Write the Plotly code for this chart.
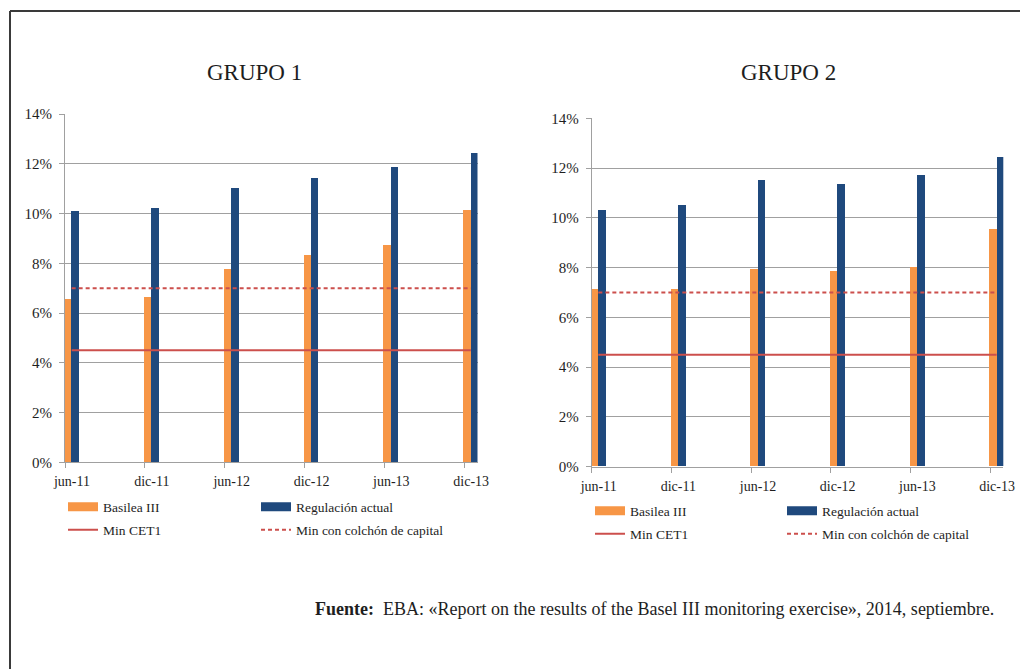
import plotly.graph_objects as go

# ---- data -----------------------------------------------------------------
categorias = ["jun-11", "dic-11", "jun-12", "dic-12", "jun-13", "dic-13"]

basilea_g1 = [6.55, 6.65, 7.75, 8.32, 8.75, 10.15]
regulacion_g1 = [10.12, 10.22, 11.02, 11.42, 11.85, 12.42]

basilea_g2 = [7.14, 7.14, 7.93, 7.85, 8.03, 9.53]
regulacion_g2 = [10.32, 10.52, 11.52, 11.33, 11.72, 12.42]

min_cet1 = [4.5, 4.5, 4.5, 4.5, 4.5, 4.5]
min_colchon = [7.0, 7.0, 7.0, 7.0, 7.0, 7.0]

y_ticks = [0, 2, 4, 6, 8, 10, 12, 14]

# ---- styling ----------------------------------------------------------------
W, H = 1020, 669
NARANJA = "#F79646"
AZUL = "#1F497D"
ROJO = "#CC4F4C"
GRID = "#A0A0A0"
TEXTO = "#1E1E1E"
SERIF = "Liberation Serif"


def fx(px):
    return px / W


def fy(py):
    return 1 - py / H


# months since jun-11: one slot per month, labels every six months
meses = [6 * i for i in range(len(categorias))]
centro = [m + 0.5 for m in meses]
ANCHO = 0.5625

fig = go.Figure()

paneles = [
    dict(xa="x", ya="y", basilea=basilea_g1, regulacion=regulacion_g1,
         leg_a="legend", leg_b="legend2"),
    dict(xa="x2", ya="y2", basilea=basilea_g2, regulacion=regulacion_g2,
         leg_a="legend3", leg_b="legend4"),
]

for p in paneles:
    fig.add_trace(go.Bar(
        x=centro, y=p["basilea"], xaxis=p["xa"], yaxis=p["ya"],
        offset=-0.575, width=ANCHO, marker=dict(color=NARANJA, line=dict(width=0)),
        name="Basilea III", showlegend=False))
    fig.add_trace(go.Bar(
        x=centro, y=p["regulacion"], xaxis=p["xa"], yaxis=p["ya"],
        offset=-0.0125, width=ANCHO, marker=dict(color=AZUL, line=dict(width=0)),
        name="Regulación actual", showlegend=False))
    fig.add_trace(go.Scatter(
        x=centro, y=min_cet1, xaxis=p["xa"], yaxis=p["ya"], mode="lines",
        line=dict(color=ROJO, width=2), name="Min CET1",
        legend=p["leg_b"], showlegend=True))
    fig.add_trace(go.Scatter(
        x=centro, y=min_colchon, xaxis=p["xa"], yaxis=p["ya"], mode="lines",
        line=dict(color=ROJO, width=2, dash="4px,3px"),
        name="Min con colchón de capital", legend=p["leg_b"], showlegend=True))
    # legend keys for the bar series (wide filled swatches)
    fig.add_trace(go.Scatter(
        x=[None], y=[None], xaxis=p["xa"], yaxis=p["ya"], mode="lines",
        line=dict(color=NARANJA, width=9), name="Basilea III",
        legend=p["leg_a"], showlegend=True))
    fig.add_trace(go.Scatter(
        x=[None], y=[None], xaxis=p["xa"], yaxis=p["ya"], mode="lines",
        line=dict(color=AZUL, width=9), name="Regulación actual",
        legend=p["leg_a"], showlegend=True))

eje_x = dict(
    range=[0, 31], tickmode="array", tickvals=meses, ticktext=categorias,
    ticks="outside", ticklen=5, tickcolor=GRID, automargin=False,
    ticklabelshift=7, ticklabelstandoff=1,
    showline=True, linecolor=GRID, linewidth=1, showgrid=False, zeroline=False,
    tickfont=dict(family=SERIF, size=14, color=TEXTO), fixedrange=True,
)
eje_y = dict(
    range=[0, 14], tickmode="array", tickvals=y_ticks,
    ticktext=[f"{v}%" for v in y_ticks], automargin=False,
    ticks="outside", ticklen=5, tickcolor=GRID, ticklabelstandoff=4,
    showline=True, linecolor=GRID, linewidth=1,
    showgrid=True, gridcolor=GRID, gridwidth=1, zeroline=False,
    tickfont=dict(family=SERIF, size=15, color=TEXTO), fixedrange=True,
)

leg_base = dict(
    orientation="h", xanchor="left", yanchor="middle",
    font=dict(family=SERIF, size=13.5, color=TEXTO),
    bgcolor="rgba(0,0,0,0)", borderwidth=0,
    entrywidthmode="pixels", itemwidth=30,
    traceorder="normal", tracegroupgap=0,
)

fig.update_layout(
    width=W, height=H,
    margin=dict(l=0, r=0, t=0, b=0, pad=0, autoexpand=False),
    paper_bgcolor="white", plot_bgcolor="white",
    font=dict(family=SERIF, color=TEXTO),
    barmode="overlay", bargap=0,
    xaxis=dict(eje_x, domain=[fx(65), fx(477.5)], anchor="y"),
    yaxis=dict(eje_y, domain=[fy(462.3), fy(114)], anchor="x"),
    xaxis2=dict(eje_x, domain=[fx(591.7), fx(1003.3)], anchor="y2"),
    yaxis2=dict(eje_y, domain=[fy(466.7), fy(118.3)], anchor="x2"),
    legend=dict(leg_base, x=fx(63), y=fy(507), entrywidth=148),
    legend2=dict(leg_base, x=fx(63), y=fy(530), entrywidth=148),
    legend3=dict(leg_base, x=fx(590), y=fy(511), entrywidth=147),
    legend4=dict(leg_base, x=fx(590), y=fy(534), entrywidth=147),
    showlegend=True,
)

# titles and source note
fig.add_annotation(text="GRUPO 1", x=fx(254), y=fy(73), xref="paper", yref="paper",
                   showarrow=False, xanchor="center", yanchor="middle",
                   font=dict(family=SERIF, size=23, color=TEXTO))
fig.add_annotation(text="GRUPO 2", x=fx(788), y=fy(73), xref="paper", yref="paper",
                   showarrow=False, xanchor="center", yanchor="middle",
                   font=dict(family=SERIF, size=23, color=TEXTO))
fig.add_annotation(
    text="<b>Fuente:</b>  EBA: «Report on the results of the Basel III monitoring exercise», 2014, septiembre.",
    x=fx(313), y=fy(609), xref="paper", yref="paper", showarrow=False,
    xanchor="left", yanchor="middle",
    font=dict(family=SERIF, size=18, color=TEXTO))

# frame around the figure (top and left rules)
fig.add_shape(type="line", xref="paper", yref="paper",
              x0=fx(10), x1=1, y0=fy(11), y1=fy(11),
              line=dict(color="#3A3A3A", width=2))
fig.add_shape(type="line", xref="paper", yref="paper",
              x0=fx(10), x1=fx(10), y0=fy(11), y1=0,
              line=dict(color="#3A3A3A", width=2))

fig.write_html("out.html")
